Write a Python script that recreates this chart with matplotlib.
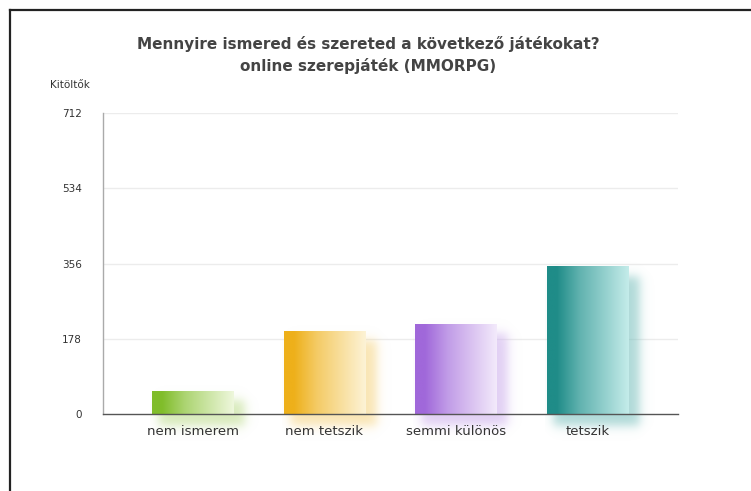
import numpy as np
import matplotlib
matplotlib.use("Agg")
import matplotlib.pyplot as plt
from matplotlib.colors import LinearSegmentedColormap, to_rgb
from matplotlib.lines import Line2D

# ---- data ----
title = "Mennyire ismered és szereted a következő játékokat?\nonline szerepjáték (MMORPG)"
categories = ["nem ismerem", "nem tetszik", "semmi különös", "tetszik"]
values = [55, 197, 213, 350]
y_ticks = [0, 178, 356, 534, 712]
y_label = "Kitöltők"
dark_colors = ["#80bd2a", "#eeb01a", "#a068da", "#1f8c88"]
light_colors = ["#eef7dc", "#fdf3d6", "#f3eafb", "#c4ecea"]

W, H = 751, 491
fig = plt.figure(figsize=(W / 100, H / 100), dpi=100)
fig.patch.set_facecolor("white")

ax_left, ax_right, ax_top, ax_bot = 103, 678, 113, 414
ax = fig.add_axes([ax_left / W, 1 - ax_bot / H, (ax_right - ax_left) / W, (ax_bot - ax_top) / H])

x = np.arange(len(categories))
xlim = (-0.684, 3.69)
ylim = (0, 712)
bw = 0.62

px_x = (xlim[1] - xlim[0]) / (ax_right - ax_left)
px_y = (ylim[1] - ylim[0]) / (ax_bot - ax_top)

bars = ax.bar(x, values, width=bw, facecolor="none", edgecolor="none", zorder=3)

def sig(t):
    return 1 / (1 + np.exp(-t))

for b, dc, lc in zip(bars, dark_colors, light_colors):
    x0 = b.get_x()
    x1 = x0 + b.get_width()
    h = b.get_height()
    # soft shadow
    sx0, sx1 = x0 - 2 * px_x, x1 + 30 * px_x
    sy0, sy1 = -30 * px_y, h + 5 * px_y
    nx, ny = 120, 200
    gx = np.linspace(sx0, sx1, nx)
    gy = np.linspace(sy1, sy0, ny)
    GX, GY = np.meshgrid(gx, gy)
    s = 3.0
    ax_ = sig((GX - (x0 + 6 * px_x)) / (s * px_x)) * sig(((x1 + 11 * px_x) - GX) / (s * px_x))
    ay_ = sig((GY - (-12 * px_y)) / (s * px_y)) * sig(((h - 10 * px_y) - GY) / (s * px_y))
    rgb = np.array(to_rgb(dc)) * 0.45 + np.array(to_rgb(lc)) * 0.55
    img = np.zeros((ny, nx, 4))
    img[..., :3] = rgb
    img[..., 3] = ax_ * ay_ * 0.6
    im = ax.imshow(img, extent=[sx0, sx1, sy0, sy1], aspect="auto", zorder=1.5,
                   interpolation="bilinear")
    im.set_clip_on(False)
    # gradient bar
    mid = tuple(0.6 * np.array(to_rgb(dc)) + 0.4 * np.array(to_rgb(lc)))
    cmap = LinearSegmentedColormap.from_list("g", [(0, dc), (0.12, dc), (0.4, mid), (1, lc)])
    grad = np.linspace(0, 1, 256).reshape(1, -1)
    gi = ax.imshow(grad, cmap=cmap, extent=[x0, x1, 0, h], aspect="auto", zorder=2.6,
                   interpolation="bilinear")
    gi.set_clip_path(b)

ax.set_xlim(*xlim)
ax.set_ylim(*ylim)

ax.set_yticks(y_ticks)
ax.set_yticklabels([str(t) for t in y_ticks], fontsize=7.5, color="#333333")
ax.tick_params(axis="y", length=0, pad=15)
ax.set_xticks(x)
ax.set_xticklabels(categories, fontsize=9.5, color="#333333")
ax.tick_params(axis="x", length=0, pad=8)

for t in y_ticks[1:]:
    ax.axhline(t, color="#ececec", lw=1.0, zorder=0.5)

for sp in ["top", "right"]:
    ax.spines[sp].set_visible(False)
ax.spines["left"].set_color("#aaaaaa")
ax.spines["left"].set_linewidth(1.0)
ax.spines["bottom"].set_color("#555555")
ax.spines["bottom"].set_linewidth(1.0)
ax.spines["bottom"].set_zorder(4)

fig.text(368 / W, 1 - 55 / H, title, ha="center", va="center", fontsize=11,
         fontweight="bold", color="#444444", linespacing=1.45)
fig.text(90 / W, 1 - 85 / H, y_label, ha="right", va="center", fontsize=7.5, color="#333333")

# frame lines (top and left)
fig.add_artist(Line2D([10 / W, 1], [1 - 10 / H, 1 - 10 / H], color="#222222", lw=1.6,
                      transform=fig.transFigure))
fig.add_artist(Line2D([10 / W, 10 / W], [0, 1 - 10 / H], color="#222222", lw=1.6,
                      transform=fig.transFigure))

fig.savefig("out.png", dpi=100, facecolor="white")
